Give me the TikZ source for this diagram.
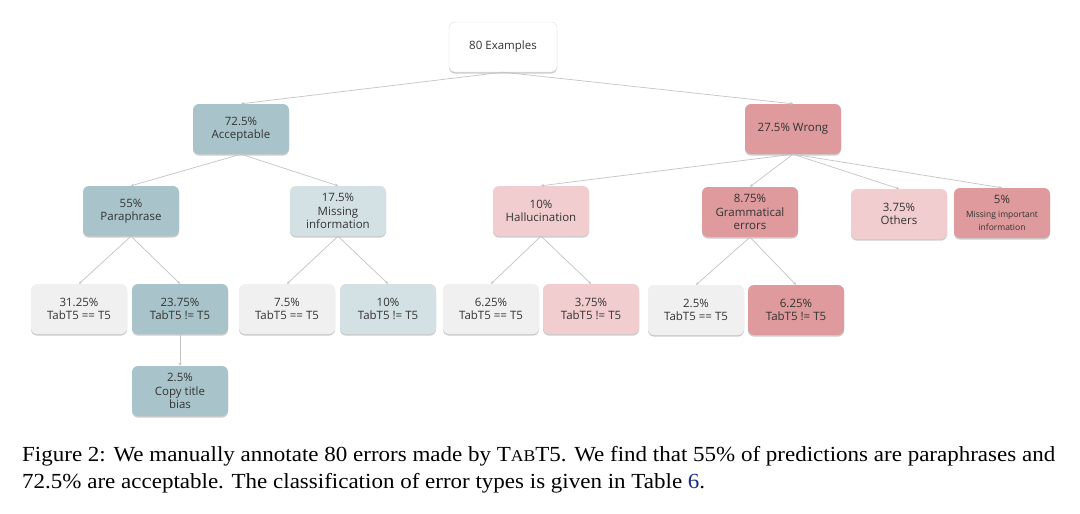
\documentclass[tikz,border=0pt]{standalone}
\usepackage{fontspec}
\setmainfont{Liberation Serif}
\newfontfamily\boxfont{Open Sans}
\usetikzlibrary{arrows.meta,shadows}
\definecolor{tealD}{HTML}{A8C4CA}
\definecolor{tealL}{HTML}{D3E0E4}
\definecolor{redD}{HTML}{DE9A9C}
\definecolor{redL}{HTML}{F1CDCF}
\definecolor{grayL}{HTML}{F0F0F0}
\definecolor{txt}{HTML}{333333}
\definecolor{conn}{HTML}{C4C4C4}
\definecolor{linkblue}{HTML}{1A2A8C}
\newlength\capw
\newcommand\capfont{\fontsize{21.5}{21.5}\selectfont}
\newcommand\tabtfive{T{\fontsize{16.5}{16.5}\selectfont AB}T5}
\newcommand\capone{Figure 2: We manually annotate 80 errors made by \tabtfive. We find that 55\% of predictions are paraphrases and}
\begin{document}
\settowidth\capw{\capfont\capone}%
\pgfmathsetmacro\capsx{1033/\capw}%
\begin{tikzpicture}[x=1pt,y=-1pt,
  box/.style={rounded corners=6pt, minimum width=96pt, minimum height=50pt,
    align=center, inner sep=2pt, text=txt, font=\boxfont\fontsize{11.5}{13.5}\selectfont,
    drop shadow={shadow xshift=0pt, shadow yshift=-1.6pt, opacity=0.4, fill=gray}},
  tD/.style={box, fill=tealD},
  tL/.style={box, fill=tealL},
  rD/.style={box, fill=redD},
  rL/.style={box, fill=redL},
  gL/.style={box, fill=grayL},
  wbox/.style={box, fill=white, draw=black!12, minimum width=108pt},
  conn/.style={draw=conn, line width=0.7pt, -{Stealth[length=3pt,width=3pt]}}
]
\useasboundingbox[fill=white] (0,0) rectangle (1080,514);

\node[wbox] (ex) at (503,47) {80 Examples};
\node[tD] (acc) at (241,129) {72.5\%\\Acceptable};
\node[rD] (wr) at (793,129) {27.5\% Wrong};

\node[tD] (par) at (131,211) {55\%\\Paraphrase};
\node[tL] (mis) at (338,211) {17.5\%\\Missing\\information};
\node[rL] (hal) at (541,211) {10\%\\Hallucination};
\node[rD] (gram) at (750,212) {8.75\%\\Grammatical\\errors};
\node[rL] (oth) at (899,214) {3.75\%\\Others};
\node[rD] (mii) at (1002,213) {5\%\\{\fontsize{8.5}{10}\selectfont Missing important}\\{\fontsize{8.5}{10}\selectfont information}};

\node[gL] (l1) at (79,309) {31.25\%\\TabT5 == T5};
\node[tD] (l2) at (180,309) {23.75\%\\TabT5 != T5};
\node[gL] (l3) at (287,309) {7.5\%\\TabT5 == T5};
\node[tL] (l4) at (388,309) {10\%\\TabT5 != T5};
\node[gL] (l5) at (491,309) {6.25\%\\TabT5 == T5};
\node[rL] (l6) at (591,309) {3.75\%\\TabT5 != T5};
\node[gL] (l7) at (696,310) {2.5\%\\TabT5 == T5};
\node[rD] (l8) at (796,310) {6.25\%\\TabT5 != T5};

\node[tD] (cp) at (180,391) {2.5\%\\Copy title\\bias};

\draw[conn] (ex.south) -- (acc.north);
\draw[conn] (ex.south) -- (wr.north);
\draw[conn] (acc.south) -- (par.north);
\draw[conn] (acc.south) -- (mis.north);
\draw[conn] (wr.south) -- (hal.north);
\draw[conn] (wr.south) -- (gram.north);
\draw[conn] (wr.south) -- (oth.north);
\draw[conn] (wr.south) -- (mii.north);
\draw[conn] (par.south) -- (l1.north);
\draw[conn] (par.south) -- (l2.north);
\draw[conn] (mis.south) -- (l3.north);
\draw[conn] (mis.south) -- (l4.north);
\draw[conn] (hal.south) -- (l5.north);
\draw[conn] (hal.south) -- (l6.north);
\draw[conn] (gram.south) -- (l7.north);
\draw[conn] (gram.south) -- (l8.north);
\draw[conn] (l2.south) -- (cp.north);

\node[anchor=base west, inner sep=0pt] (cap1) at (22,461) {\scalebox{\capsx}[1]{\capfont\capone}};
\node[anchor=base west, inner sep=0pt] (cap2) at (22,488) {\scalebox{\capsx}[1]{\capfont 72.5\% are acceptable. The classification of error types is given in Table \textcolor{linkblue}{6}.}};
\end{tikzpicture}
\end{document}
